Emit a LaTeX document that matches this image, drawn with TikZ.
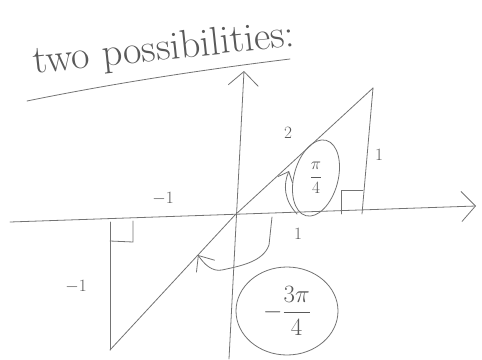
\documentclass[tikz,border=0pt]{standalone}
\usepackage{amsmath}
\usetikzlibrary{arrows.meta, calc, shapes.geometric}
\tikzset{
  pencil/.style={draw=black!55, line width=0.8pt, line cap=round, line join=round},
  axarr/.style={pencil, -{Straight Barb[length=14pt,width=30pt]}},
  angarr/.style={pencil, -{Straight Barb[length=9pt,width=16pt]}},
  lab/.style={text=black!65, inner sep=1pt},
  circ/.style={pencil, ellipse, inner sep=0pt}
}
\begin{document}
\begin{tikzpicture}[x=1pt, y=-1pt]
\useasboundingbox (0,0) rectangle (482,359);
% title
\node[lab, rotate=6, font=\fontsize{40}{46}\selectfont] (title) at (164,50) {two possibilities:};
\coordinate (ul1) at (27,101);
\coordinate (ul2) at (290,59);
\draw[pencil] (ul1) .. controls (110,84) and (200,70) .. (ul2);
% axes
\coordinate (O) at (235,215);
\coordinate (xL) at (10,222);
\coordinate (xR) at (476,206);
\coordinate (yB) at (229,359);
\coordinate (yT) at (244,71);
\draw[axarr] (xL) -- (xR);
\draw[axarr] (yB) -- (yT);
% the two triangles
\coordinate (P) at (373,88);
\coordinate (Px) at (362,214);
\coordinate (Q) at (110,350);
\coordinate (Qx) at (110,222);
\draw[pencil] (P) -- (O) -- (Q);
\draw[pencil] (P) -- (Px);
\draw[pencil] (Q) -- (Qx);
\draw[pencil] ($(Px)+(-21,0)$) -- ($(Px)+(-21,-24)$) -- ($(Px)+(1,-24)$);
\draw[pencil] ($(Qx)+(0,19)$) -- ($(Qx)+(23,20)$) -- ($(Qx)+(23,-1)$);
% side labels
\node[lab, font=\LARGE] (hyp) at (288,133) {2};
\node[lab, font=\LARGE] (rside) at (379,155) {1};
\node[lab, font=\LARGE] (rbase) at (298,234) {1};
\node[lab, font=\LARGE] (lbase) at (163,199) {$-1$};
\node[lab, font=\LARGE] (lside) at (76,287) {$-1$};
% angles
\coordinate (a1) at (297,214);
\coordinate (a1e) at (289,171);
\draw[angarr] (a1) .. controls (284,200) and (283,185) .. (a1e);
\node[lab, font=\LARGE] (pi4) at (316,178) {$\dfrac{\pi}{4}$};
\draw[pencil, rotate around={-15:(pi4)}] (pi4) ellipse [x radius=22, y radius=39];
\coordinate (a2) at (272,217);
\coordinate (a2e) at (198,255);
\draw[angarr, -{Straight Barb[length=13pt,width=22pt]}] (a2) -- (269,245)
  .. controls (263,262) and (240,266) .. (222,270)
  .. controls (212,272) and (204,264) .. (a2e);
\node[circ, lab, font=\fontsize{29}{34}\selectfont, minimum width=102pt, minimum height=88pt] (m3pi4) at (287,311) {$-\dfrac{3\pi}{4}$};
\end{tikzpicture}
\end{document}
